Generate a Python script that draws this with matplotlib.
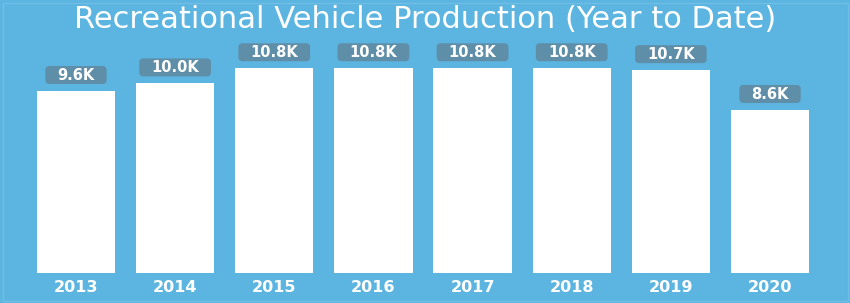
import matplotlib.pyplot as plt
from matplotlib.patches import FancyBboxPatch, Rectangle
from matplotlib.transforms import offset_copy, IdentityTransform

years = ["2013", "2014", "2015", "2016", "2017", "2018", "2019", "2020"]
production = [9.6, 10.0, 10.8, 10.8, 10.8, 10.8, 10.7, 8.6]
value_labels = ["9.6K", "10.0K", "10.8K", "10.8K", "10.8K", "10.8K", "10.7K", "8.6K"]

bg = "#5cb5e1"
box = "#5f8fa8"

fig = plt.figure(figsize=(8.5, 3.03), dpi=100, facecolor=bg)
ax = fig.add_axes([26.4 / 850, 30 / 303, 793.2 / 850, 233 / 303])
ax.set_facecolor(bg)

# faint frame around the whole picture
fig.add_artist(Rectangle((2.5, 2.5), 845, 298, transform=IdentityTransform(),
                         fill=False, ec="#70bee6", lw=1, zorder=0))

x = range(len(years))
ax.bar(x, production, width=0.79, color="white", edgecolor="none")
ax.set_xlim(-0.5, len(years) - 0.5)
ax.set_ylim(0, 12.29)
ax.autoscale(False)
ax.axis("off")

# value labels sit in a rounded box just above each bar
lab_trans = offset_copy(ax.transData, fig, y=11, units="dots")
labels = []
for i, (v, lab) in enumerate(zip(production, value_labels)):
    t = ax.text(i, v, lab, transform=lab_trans, ha="center", va="baseline",
                color="white", fontsize=10.5, fontweight="bold",
                family="DejaVu Sans", zorder=4)
    labels.append(t)
    ax.text(i, -0.75, years[i], ha="center", va="center", color="white",
            fontsize=11.5, fontweight="bold", family="DejaVu Sans")

fig.text(0.5, 1 - 20 / 303, "Recreational Vehicle Production (Year to Date)",
         ha="center", va="center", color="white", fontsize=22, family="DejaVu Sans")

fig.canvas.draw()
for i, t in enumerate(labels):
    bb = t.get_window_extent()
    top = ax.transData.transform((i, production[i]))[1]
    cy = top + 16
    p = FancyBboxPatch((bb.x0 - 12, cy - 9), bb.width + 24, 18,
                       boxstyle="round,pad=0,rounding_size=4",
                       fc=box, ec="none", transform=IdentityTransform(),
                       zorder=3, clip_on=False)
    ax.add_patch(p)

fig.savefig("out.png", facecolor=bg)
